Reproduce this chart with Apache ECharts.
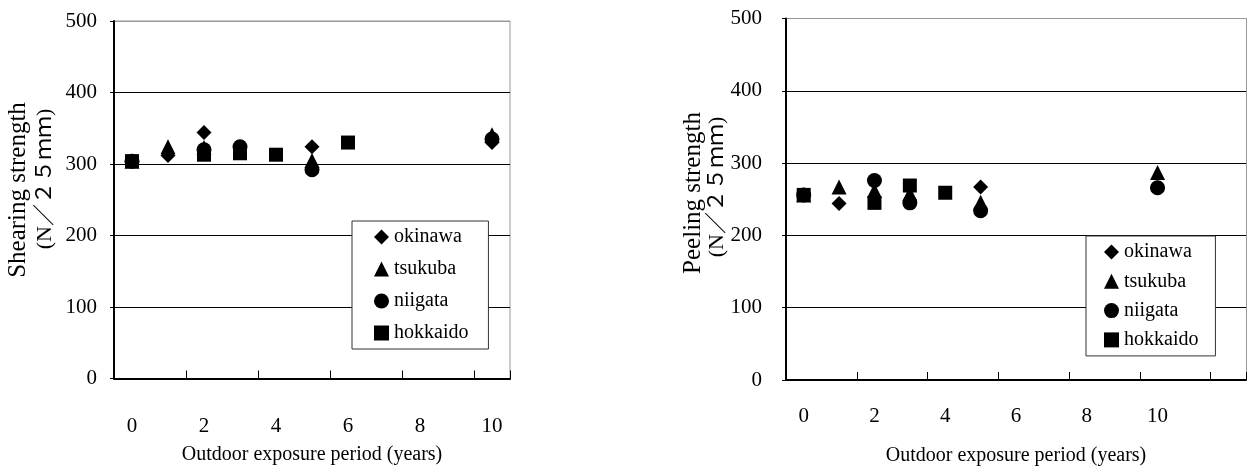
<!DOCTYPE html>
<html>
<head>
<meta charset="utf-8">
<script src="https://cdn.jsdelivr.net/npm/echarts@6/dist/echarts.min.js"></script>
<style>
html,body{margin:0;padding:0;background:#fff;}
#chart{width:1248px;height:472px;}
</style>
</head>
<body>
<div id="chart"></div>
<script>
// ---- data ----
const seriesNames = ['okinawa', 'tsukuba', 'niigata', 'hokkaido'];
const xLabelsLeft = ['0','1','2','3','4','5','6','7','8','9','10'];
const xLabelsRight = ['0','1','2','3','4','5','6','7','8','9','10','11',''];
const yTicks = [0, 100, 200, 300, 400, 500];

// Shearing strength [year, value]
const shearOkinawa  = [[0,304],[1,312],[2,344],[5,324],[10,330]];
const shearTsukuba  = [[0,304],[1,324],[2,323],[5,305],[10,341]];
const shearNiigata  = [[0,304],[2,320],[3,324],[5,292],[10,335]];
const shearHokkaido = [[0,304],[2,313],[3,315],[4,313],[6,330]];

// Peeling strength [year, value]
const peelOkinawa  = [[0,256],[1,244],[5,267],[10,266]];
const peelTsukuba  = [[0,256],[1,267],[2,262],[3,258],[5,246],[10,287]];
const peelNiigata  = [[0,256],[2,276],[3,245],[5,234],[10,266]];
const peelHokkaido = [[0,256],[2,245],[3,269],[4,259]];

const xTitle = 'Outdoor exposure period (years)';
const yTitleLeft = ['Shearing strength', '(N／２５ｍｍ)'];
const yTitleRight = ['Peeling strength', '(N／２５ｍｍ)'];

// ---- chart ----
const FONT = '"Liberation Serif", "Times New Roman", "Noto Sans CJK JP", serif';
const symbols = ['diamond', 'triangle', 'circle', 'rect'];
const sizes = [15, 15, 15, 14];
const shearData = [shearOkinawa, shearTsukuba, shearNiigata, shearHokkaido];
const peelData = [peelOkinawa, peelTsukuba, peelNiigata, peelHokkaido];

function xAxis(gridIndex, data, margin) {
  return {
    type: 'category', gridIndex: gridIndex, data: data, boundaryGap: true,
    axisLine: { show: true, lineStyle: { color: '#000', width: 2 } },
    axisTick: { show: true, inside: true, length: 8, interval: 1, lineStyle: { color: '#000', width: 1 } },
    axisLabel: { interval: 1, margin: margin, fontFamily: FONT, fontSize: 21, color: '#000' },
    splitLine: { show: false },
    name: xTitle, nameLocation: 'middle', nameGap: 66,
    nameTextStyle: { fontFamily: FONT, fontSize: 20, color: '#000' }
  };
}
function yAxis(gridIndex, margin) {
  return {
    type: 'value', gridIndex: gridIndex, min: yTicks[0], max: yTicks[yTicks.length - 1], interval: 100,
    axisLine: { show: true, lineStyle: { color: '#000', width: 2 } },
    axisTick: { show: true, length: 4, lineStyle: { color: '#000', width: 1 } },
    axisLabel: { margin: margin, fontFamily: FONT, fontSize: 21, color: '#000' },
    splitLine: { show: true, lineStyle: { color: ['#000','#000','#000','#000','#000','#999'], width: 1 } }
  };
}
function legend(left, top, gap, padding) {
  return {
    orient: 'vertical', left: left, top: top, data: seriesNames,
    itemWidth: 15, itemHeight: 15, itemGap: gap, padding: padding,
    backgroundColor: '#fff', borderColor: '#333', borderWidth: 1,
    selectedMode: false,
    itemStyle: { color: '#000', opacity: 1 },
    textStyle: { fontFamily: FONT, fontSize: 20, color: '#000', lineHeight: 20 }
  };
}

const series = [];
seriesNames.forEach(function (name, i) {
  series.push({ type: 'scatter', name: name, xAxisIndex: 0, yAxisIndex: 0, data: shearData[i],
    symbol: symbols[i], symbolSize: sizes[i], itemStyle: { color: '#000', opacity: 1 } });
});
seriesNames.forEach(function (name, i) {
  series.push({ type: 'scatter', name: name, xAxisIndex: 1, yAxisIndex: 1, data: peelData[i],
    symbol: symbols[i], symbolSize: sizes[i], itemStyle: { color: '#000', opacity: 1 } });
});

function vText(x, y, text, size) {
  return { type: 'text', x: x, y: y, rotation: Math.PI / 2,
    style: { text: text, font: size + 'px ' + FONT, fill: '#000',
      textAlign: 'center', textVerticalAlign: 'middle', align: 'center', verticalAlign: 'middle' } };
}

const chart = echarts.init(document.getElementById('chart'), null, { renderer: 'canvas' });
chart.setOption({
  animation: false,
  backgroundColor: '#fff',
  grid: [
    { left: 114, top: 21, width: 396, height: 357.5, show: true, borderColor: '#999', borderWidth: 1, backgroundColor: 'transparent' },
    { left: 786, top: 18.5, width: 460, height: 361.5 }
  ],
  xAxis: [xAxis(0, xLabelsLeft, 37), xAxis(1, xLabelsRight, 26)],
  yAxis: [yAxis(0, 17), yAxis(1, 24),
    { type: 'value', gridIndex: 1, position: 'right', min: 0, max: 500,
      axisLine: { show: true, lineStyle: { color: '#999', width: 1 } },
      axisTick: { show: false }, axisLabel: { show: false }, splitLine: { show: false } }
  ],
  legend: [legend(352, 221, 12, [6, 20, 6, 22]), legend(1086, 236, 9.3, [6, 17, 6, 18])],
  graphic: [
    vText(18, 190, yTitleLeft[0], 25), vText(45, 179, yTitleLeft[1], 22),
    vText(693, 193, yTitleRight[0], 25), vText(717, 187, yTitleRight[1], 22)
  ],
  series: series
});
</script>
</body>
</html>
